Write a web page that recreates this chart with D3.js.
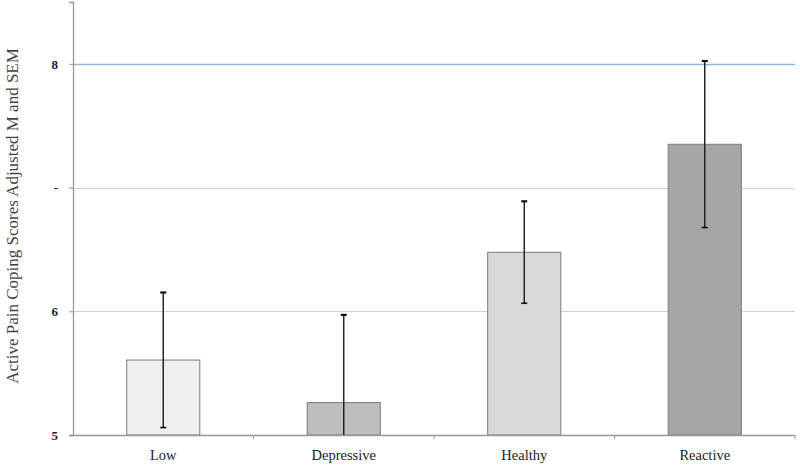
<!DOCTYPE html>
<html>
<head>
<meta charset="utf-8">
<script src="https://cdn.jsdelivr.net/npm/d3@7"></script>
<style>
  body { margin: 0; background: #fff; }
  svg { display: block; }
</style>
</head>
<body>
<script>
// data
var groups = ["Low", "Depressive", "Healthy", "Reactive"];
var means = [5.606, 5.262, 6.477, 7.350];
var sems = [0.546, 0.709, 0.412, 0.673];
var fills = ["#f0f0f0", "#bebebe", "#d9d9d9", "#a6a6a6"];
var tickValues = [5, 6, 7, 8];
var tickLabels = ["5", "6", "-", "8"];

window.onload = function(){
    var width = 800,
        height = 467;
    var left = 73, right = 795, top = 2, bottom = 435;

    var svg = d3.select("body")
        .append("svg")
        .attr("width", width)
        .attr("height", height);

    var x = d3.scaleBand()
        .domain(groups)
        .range([left, right]);

    var y = d3.scaleLinear()
        .domain([5, 8.5])
        .range([bottom, top]);

    // gridlines
    svg.append("g").selectAll("line")
        .data(tickValues.slice(1))
        .enter()
        .append("line")
        .attr("x1", left)
        .attr("x2", right)
        .attr("y1", function(d){ return Math.round(y(d)) + 0.5; })
        .attr("y2", function(d){ return Math.round(y(d)) + 0.5; })
        .attr("stroke", function(d){ return d === 8 ? "#95b1e8" : "#c3d3f4"; })
        .attr("stroke-width", function(d){ return d === 8 ? 1.6 : 1.2; });

    // bars
    var bw = x.bandwidth() * 0.405;
    svg.append("g").selectAll("rect")
        .data(groups)
        .enter()
        .append("rect")
        .attr("x", function(d){ return x(d) + x.bandwidth() / 2 - bw / 2; })
        .attr("y", function(d, i){ return y(means[i]); })
        .attr("width", bw)
        .attr("height", function(d, i){ return bottom - y(means[i]); })
        .attr("fill", function(d, i){ return fills[i]; })
        .attr("stroke", "#7a7a7a")
        .attr("stroke-width", 1);

    // error bars
    var err = svg.append("g");
    groups.forEach(function(g, i){
        var cx = x(g) + x.bandwidth() / 2;
        var hi = y(means[i] + sems[i]);
        var lo = Math.min(bottom, y(means[i] - sems[i]));
        err.append("line")
            .attr("x1", cx).attr("x2", cx)
            .attr("y1", hi).attr("y2", lo)
            .attr("stroke", "#1a1a1a")
            .attr("stroke-width", 1.4);
        err.append("line")
            .attr("x1", cx - 3).attr("x2", cx + 3)
            .attr("y1", hi).attr("y2", hi)
            .attr("stroke", "#111")
            .attr("stroke-width", 2.2);
        if (lo < bottom) {
            err.append("line")
                .attr("x1", cx - 3).attr("x2", cx + 3)
                .attr("y1", lo).attr("y2", lo)
                .attr("stroke", "#111")
                .attr("stroke-width", 1.6);
        }
    });

    // y axis
    var yAxis = svg.append("g")
        .attr("transform", "translate(" + left + ",0)")
        .call(d3.axisLeft(y)
            .tickValues(tickValues)
            .tickSize(4)
            .tickPadding(11)
            .tickFormat(function(d, i){ return tickLabels[i]; }));
    yAxis.select(".domain").attr("stroke", "#999").attr("stroke-width", 1.3);
    yAxis.selectAll(".tick line").attr("stroke", "#999");
    yAxis.selectAll("text")
        .style("font-family", "'Liberation Serif', 'Times New Roman', serif")
        .attr("font-weight", "bold")
        .attr("font-size", 13)
        .attr("fill", "#222");

    // x axis
    var xAxis = svg.append("g")
        .attr("transform", "translate(0," + bottom + ")");
    xAxis.append("line")
        .attr("x1", left - 4).attr("x2", right)
        .attr("y1", 0.5).attr("y2", 0.5)
        .attr("stroke", "#999")
        .attr("stroke-width", 1.3);
    xAxis.selectAll(".sep")
        .data(groups)
        .enter()
        .append("line")
        .attr("class", "sep")
        .attr("x1", function(d){ return x(d) + x.bandwidth(); })
        .attr("x2", function(d){ return x(d) + x.bandwidth(); })
        .attr("y1", 0).attr("y2", 4)
        .attr("stroke", "#999");
    xAxis.selectAll(".lbl")
        .data(groups)
        .enter()
        .append("text")
        .attr("class", "lbl")
        .attr("x", function(d){ return x(d) + x.bandwidth() / 2; })
        .attr("y", 25)
        .attr("text-anchor", "middle")
        .style("font-family", "'Liberation Serif', 'Times New Roman', serif")
        .attr("font-size", 14.5)
        .attr("fill", "#222")
        .text(function(d){ return d; });

    // y axis title
    svg.append("text")
        .attr("transform", "translate(18,216) rotate(-90)")
        .attr("text-anchor", "middle")
        .style("font-family", "'Liberation Serif', 'Times New Roman', serif")
        .attr("font-size", 17)
        .attr("fill", "#444")
        .text("Active Pain Coping Scores Adjusted M and SEM");
};
</script>
</body>
</html>
